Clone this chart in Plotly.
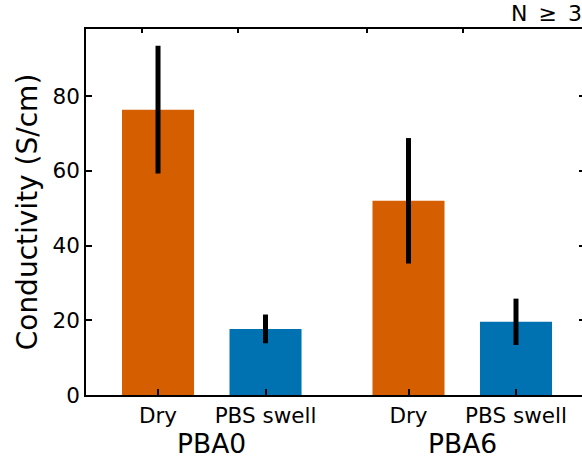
import plotly.graph_objects as go

groups = ["PBA0", "PBA6"]
conditions = ["Dry", "PBS swell"]
dry_mean = [76.4, 52.0]
dry_err = [17.1, 16.8]
pbs_mean = [17.7, 19.6]
pbs_err = [3.85, 6.2]
y_ticks = [0, 20, 40, 60, 80]
note_text = "N\u2002≥\u20023"

ORANGE = "#D55E00"
BLUE = "#0072B2"
FONT = "DejaVu Sans"

# plot area geometry in pixels
W, H = 582, 461
ML, MR, MT, MB = 86, 0, 29, 66
PW, PH = W - ML - MR, H - MT - MB

# bar positions (x units)
group_offset = 2.33
dry_x = [0 + g * group_offset for g in range(len(groups))]
pbs_x = [1 + g * group_offset for g in range(len(groups))]
bar_w = 0.67
x_range = [-0.67, 3.944]
y_range = [0, 98]

fig = go.Figure()
fig.add_trace(go.Bar(
    x=dry_x, y=dry_mean, width=bar_w, marker=dict(color=ORANGE, line=dict(width=0)),
    error_y=dict(type="data", array=dry_err, color="black", thickness=5, width=0),
    showlegend=False, hoverinfo="skip",
))
fig.add_trace(go.Bar(
    x=pbs_x, y=pbs_mean, width=bar_w, marker=dict(color=BLUE, line=dict(width=0)),
    error_y=dict(type="data", array=pbs_err, color="black", thickness=5, width=0),
    showlegend=False, hoverinfo="skip",
))
# invisible trace to activate secondary axes
fig.add_trace(go.Scatter(x=[x_range[0]], y=[0], xaxis="x2", yaxis="y2",
                         mode="markers", marker=dict(opacity=0), showlegend=False,
                         hoverinfo="skip"))

tick_x = []
tick_text = []
for i in range(len(groups)):
    tick_x += [dry_x[i], pbs_x[i]]
    tick_text += conditions

top_ticks = [-0.149, 0.744, 1.944, 2.837]

fig.update_layout(
    width=W, height=H,
    margin=dict(l=ML, r=MR, t=MT, b=MB),
    paper_bgcolor="white", plot_bgcolor="white",
    font=dict(family=FONT, size=21, color="black"),
    barmode="overlay",
    xaxis=dict(range=x_range, tickmode="array", tickvals=tick_x, ticktext=tick_text,
               ticks="inside", ticklen=6, tickwidth=1.5, tickcolor="black",
               showline=True, linecolor="black", linewidth=1.5,
               showgrid=False, zeroline=False, tickfont=dict(size=21.5)),
    xaxis2=dict(range=x_range, overlaying="x", side="top", tickmode="array",
                tickvals=top_ticks, showticklabels=False,
                ticks="inside", ticklen=4, tickwidth=1.5, tickcolor="black",
                showline=True, linecolor="black", linewidth=1.5,
                showgrid=False, zeroline=False),
    yaxis=dict(range=y_range, tickmode="array", tickvals=y_ticks,
               ticks="inside", ticklen=6, tickwidth=1.5, tickcolor="black",
               showline=True, linecolor="black", linewidth=1.5,
               showgrid=False, zeroline=False, tickfont=dict(size=21.5),
               title=dict(text="Conductivity (S/cm)", font=dict(size=28), standoff=7)),
    yaxis2=dict(range=y_range, overlaying="y", side="right", tickmode="array",
                tickvals=y_ticks[1:], showticklabels=False,
                ticks="inside", ticklen=3, tickwidth=1.5, tickcolor="black",
                showline=False, showgrid=False, zeroline=False),
)

for i, g in enumerate(groups):
    fig.add_annotation(x=(dry_x[i] + pbs_x[i]) / 2, y=-(426 - (MT + PH)) / PH,
                       xref="x", yref="paper",
                       text=g, showarrow=False, font=dict(size=26.5),
                       xanchor="center", yanchor="top")

fig.add_annotation(x=(509 - ML) / PW, y=1 + (MT + 1) / PH,
                   xref="paper", yref="paper", text=note_text,
                   showarrow=False, font=dict(size=22), xanchor="left", yanchor="top")

fig.write_html("out.html", config={"displayModeBar": False},
               post_script="document.body.style.margin='0';document.body.style.overflow='hidden';")
